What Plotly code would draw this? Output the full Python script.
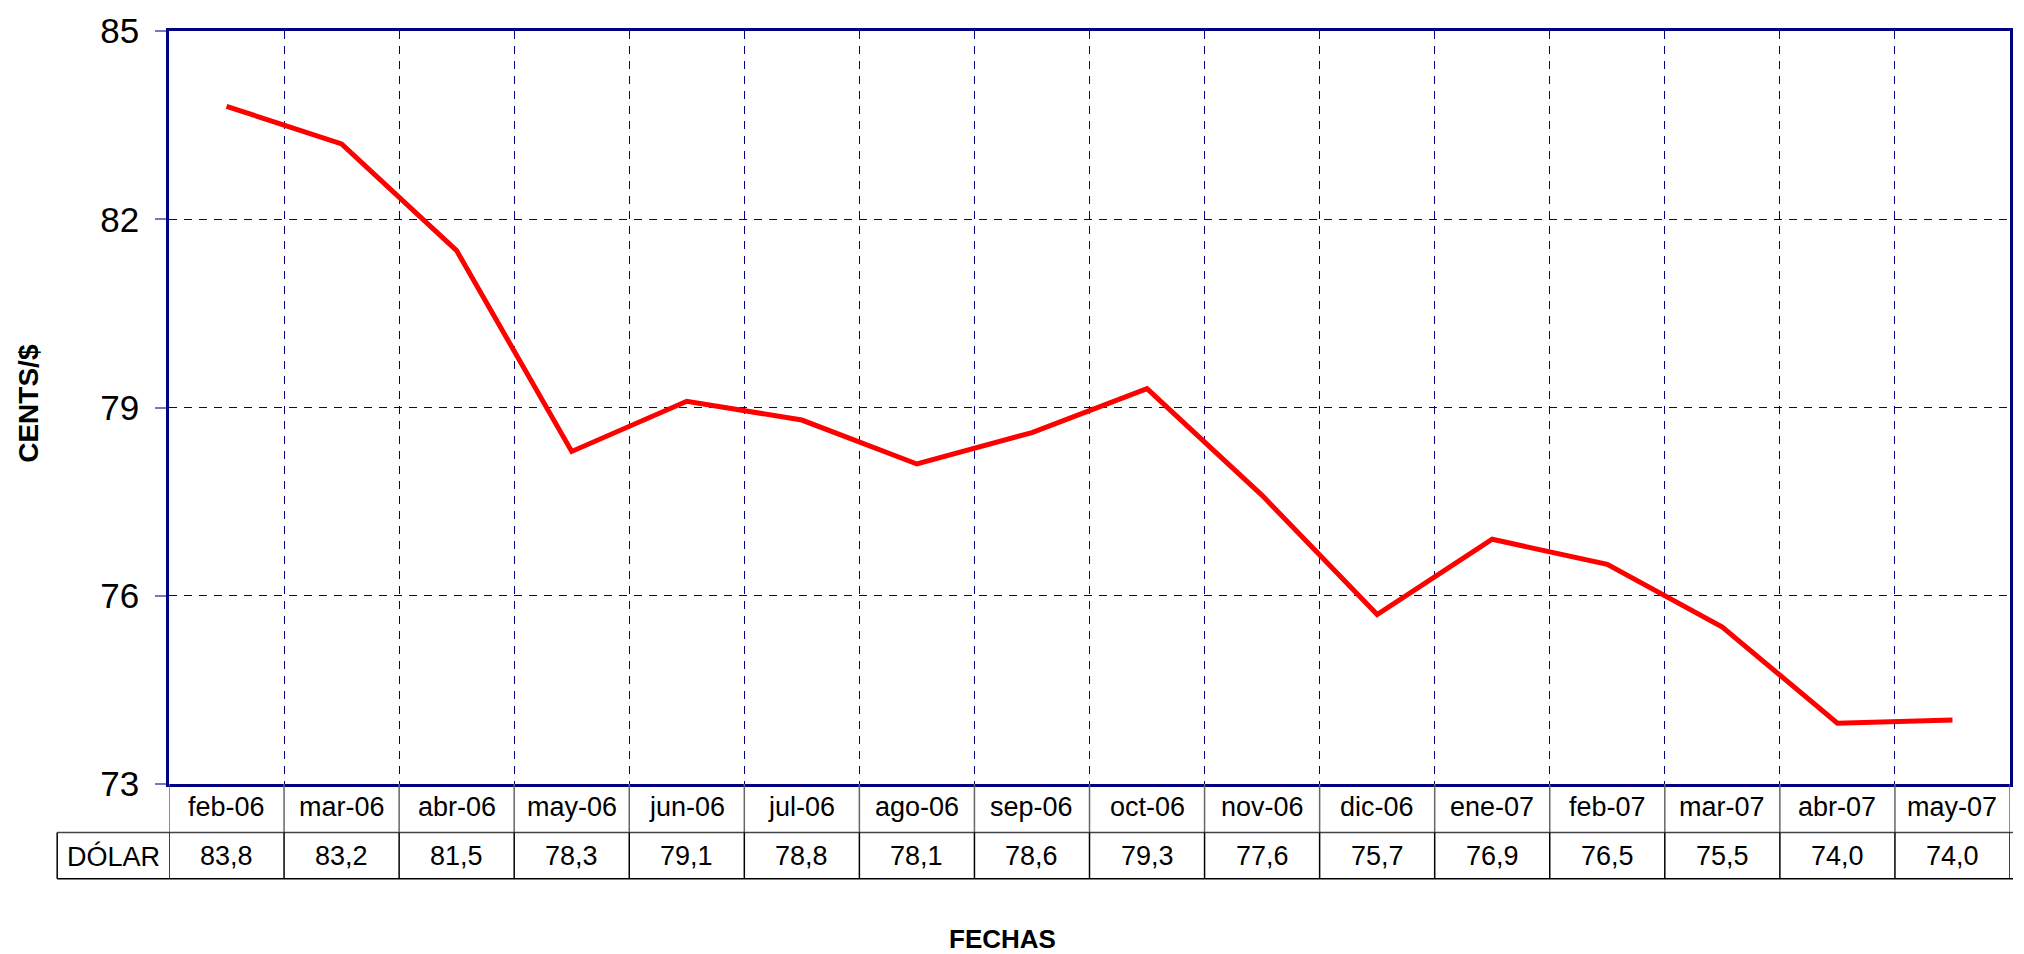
import plotly.graph_objects as go

categories = ["feb-06", "mar-06", "abr-06", "may-06", "jun-06", "jul-06", "ago-06", "sep-06",
              "oct-06", "nov-06", "dic-06", "ene-07", "feb-07", "mar-07", "abr-07", "may-07"]
dolar = [83.8, 83.2, 81.5, 78.3, 79.1, 78.8, 78.1, 78.6, 79.3, 77.6, 75.7, 76.9, 76.5, 75.5, 73.97, 74.02]
series_name = "DÓLAR"
y_ticks = [73, 76, 79, 82, 85]

W, H = 2024, 954
L, R, T, B = 169, 11, 22, 170
plot_w = W - L - R
plot_h = H - T - B

def py(px_y):
    return (H - B - px_y) / plot_h

def pxx(px_x):
    return (px_x - L) / plot_w

FONT = "Liberation Sans, Arial, sans-serif"
NAVY = "#000080"

xs = list(range(len(categories)))

fig = go.Figure()
fig.add_trace(go.Scatter(x=xs, y=dolar, mode="lines", name=series_name,
                         line=dict(color="#FF0000", width=5), showlegend=False))

n = len(categories)
fig.update_layout(
    width=W, height=H,
    margin=dict(l=L, r=R, t=T, b=B),
    paper_bgcolor="white", plot_bgcolor="white",
    font=dict(family=FONT, color="black"),
    xaxis=dict(range=[-0.5, n - 0.5], tickvals=[i + 0.5 for i in range(n - 1)],
               showticklabels=False, ticks="", showgrid=True, gridcolor=NAVY,
               gridwidth=1, griddash="8px,7px", zeroline=False,
               showline=True, linecolor=NAVY, linewidth=2.5, mirror=True),
    yaxis=dict(range=[73, 85], tickvals=y_ticks, ticktext=[str(v) for v in y_ticks],
               ticks="outside", ticklen=11, tickcolor="#7777c0", tickwidth=1.5,
               ticklabelstandoff=9,
               tickfont=dict(size=35, family=FONT, color="black"),
               showgrid=True, gridcolor=NAVY, gridwidth=1, griddash="8px,7px",
               zeroline=False, showline=True, linecolor=NAVY, linewidth=2.5, mirror=True),
)

shapes = []
header_bot = 833
value_bot = 880
left_px = 57
right_px = 2016
shapes.append(dict(type="line", xref="paper", yref="paper", x0=pxx(left_px), x1=pxx(right_px),
                   y0=py(header_bot), y1=py(header_bot), line=dict(color="#444444", width=1.5)))
shapes.append(dict(type="line", xref="paper", yref="paper", x0=pxx(left_px), x1=pxx(right_px),
                   y0=py(value_bot), y1=py(value_bot), line=dict(color="black", width=1.5)))
shapes.append(dict(type="line", xref="paper", yref="paper", x0=pxx(left_px), x1=pxx(left_px),
                   y0=py(header_bot), y1=py(value_bot), line=dict(color="black", width=1.5)))
for k in range(n + 1):
    xv = k - 0.5
    shapes.append(dict(type="line", xref="x", yref="paper", x0=xv, x1=xv,
                       y0=0, y1=py(header_bot), line=dict(color="#666666", width=1.5)))
    shapes.append(dict(type="line", xref="x", yref="paper", x0=xv, x1=xv,
                       y0=py(header_bot), y1=py(value_bot), line=dict(color="black", width=1.5)))
fig.update_layout(shapes=shapes)

ann = []
for i, c in enumerate(categories):
    ann.append(dict(x=i, y=py(807), xref="x", yref="paper", text=c, showarrow=False,
                    font=dict(size=27, family=FONT, color="black"), xanchor="center", yanchor="middle"))
    ann.append(dict(x=i, y=py(857), xref="x", yref="paper",
                    text=f"{dolar[i]:.1f}".replace(".", ","), showarrow=False,
                    font=dict(size=27, family=FONT, color="black"), xanchor="center", yanchor="middle"))
ann.append(dict(x=pxx(113), y=py(857), xref="paper", yref="paper", text=series_name, showarrow=False,
                font=dict(size=27, family=FONT, color="black"), xanchor="center", yanchor="middle"))
ann.append(dict(x=pxx(1004), y=py(941), xref="paper", yref="paper", text="<b>FECHAS</b>", showarrow=False,
                font=dict(size=26, family=FONT, color="black"), xanchor="center", yanchor="middle"))
ann.append(dict(x=pxx(28), y=py(399), xref="paper", yref="paper", text="<b>CENTS/$</b>", showarrow=False,
                textangle=-90, font=dict(size=28, family=FONT, color="black"),
                xanchor="center", yanchor="middle"))
fig.update_layout(annotations=ann)

fig.write_html("out.html", config={"displayModeBar": False},
               post_script="document.body.style.margin='0';document.body.style.overflow='hidden';")
